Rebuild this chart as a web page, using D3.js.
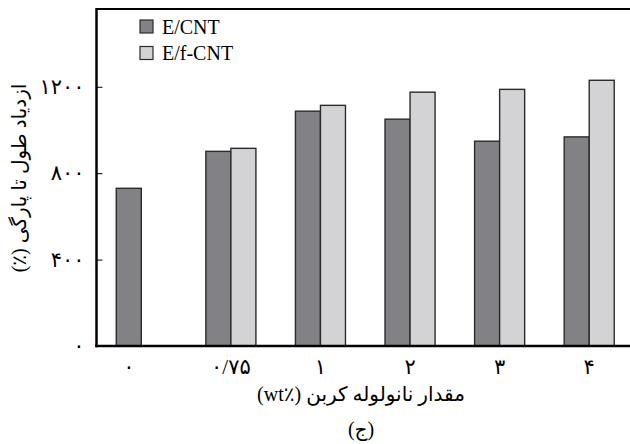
<!DOCTYPE html>
<html><head><meta charset="utf-8">
<script src="https://cdn.jsdelivr.net/npm/d3@7"></script>
<style>body{margin:0;background:#fff}svg{display:block}</style>
</head><body>
<script>
// ---- data ----
const categories = ["0", "0.75", "1", "2", "3", "4"];
const categoryLabels = ["۰", "۰/۷۵", "۱", "۲", "۳", "۴"];
const seriesNames = ["E/CNT", "E/f-CNT"];
const seriesColors = ["#828286", "#d3d3d5"];
const eCNT = [730, 901, 1087, 1050, 948, 968];
const efCNT = [null, 915, 1114, 1175, 1188, 1230];
const yTickValues = [0, 400, 800, 1200];
const yTickLabels = ["۰", "۴۰۰", "۸۰۰", "۱۲۰۰"];
const yTitle = "ازدیاد طول تا پارگی (٪)";
const xTitle = "مقدار نانولوله کربن (wt٪\u200E)";
const caption = "(ج)";

const W = 630, H = 444;
const mLeft = 96.5, mTop = 9, mBottom = 346, mRight = 634;
const persianFont = "'Liberation Serif','DejaVu Sans',serif";

const svg = d3.select("body").append("svg").attr("width", W).attr("height", H);

const x = d3.scaleBand().domain(categories).range([mLeft, mRight]);
const x1 = d3.scaleBand().domain(seriesNames).range([0, x.bandwidth()]).paddingOuter(0.79);
const y = d3.scaleLinear().domain([0, 1560]).range([mBottom, mTop]);

const seriesData = [eCNT, efCNT];
const rows = [];
categories.forEach((c, i) => {
  seriesNames.forEach((s, j) => {
    const v = seriesData[j][i];
    if (v != null) rows.push({c, s, v, j});
  });
});

svg.append("g").selectAll("rect").data(rows).join("rect")
  .attr("x", d => x(d.c) + x1(d.s))
  .attr("y", d => y(d.v))
  .attr("width", x1.bandwidth())
  .attr("height", d => y(0) - y(d.v))
  .attr("fill", d => seriesColors[d.j])
  .attr("stroke", "#2b2b2b")
  .attr("stroke-width", 1.4);

// y axis
const yAxis = d3.axisLeft(y)
  .tickValues(yTickValues)
  .tickSizeInner(-6).tickSizeOuter(0).tickPadding(12)
  .tickFormat((d, i) => yTickLabels[i]);
const gy = svg.append("g").attr("transform", `translate(${mLeft},0)`).call(yAxis);
gy.select(".domain").remove();
gy.selectAll(".tick line").attr("stroke", "#000").attr("stroke-width", 1);
gy.selectAll(".tick text").attr("font-family", persianFont).attr("font-size", 21)
  .attr("letter-spacing", 1).attr("fill", "#000");

// x labels
svg.append("g").selectAll("text").data(categories).join("text")
  .attr("x", (c, i) => efCNT[i] == null
      ? x(c) + x1(seriesNames[0]) + x1.bandwidth() / 2
      : x(c) + x.bandwidth() / 2)
  .attr("y", 374)
  .attr("text-anchor", "middle")
  .attr("font-family", persianFont).attr("font-size", 21).attr("letter-spacing", 1)
  .text((c, i) => categoryLabels[i]);

// frame lines
svg.append("line").attr("x1", mLeft).attr("x2", W).attr("y1", mTop).attr("y2", mTop)
  .attr("stroke", "#000").attr("stroke-width", 2);
svg.append("line").attr("x1", mLeft).attr("x2", mLeft).attr("y1", mTop - 1).attr("y2", mBottom + 1.2)
  .attr("stroke", "#000").attr("stroke-width", 2.5);
svg.append("line").attr("x1", mLeft - 1.2).attr("x2", W).attr("y1", mBottom).attr("y2", mBottom)
  .attr("stroke", "#000").attr("stroke-width", 2.5);

// legend
const lg = svg.append("g");
seriesNames.forEach((s, j) => {
  lg.append("rect").attr("x", 140).attr("y", 20 + j * 26.5).attr("width", 13).attr("height", 13)
    .attr("fill", seriesColors[j]).attr("stroke", "#2b2b2b").attr("stroke-width", 1.2);
  lg.append("text").attr("x", 162).attr("y", 34 + j * 25.5)
    .attr("font-family", "'Liberation Serif',serif").attr("font-size", 20)
    .text(s);
});

// titles
svg.append("text")
  .attr("transform", "translate(26,178) rotate(-90)")
  .attr("text-anchor", "middle").attr("direction", "rtl")
  .attr("font-family", persianFont).attr("font-size", 20)
  .text(yTitle);
svg.append("text")
  .attr("x", 361).attr("y", 401)
  .attr("text-anchor", "middle").attr("direction", "rtl")
  .attr("font-family", persianFont).attr("font-size", 20)
  .text(xTitle);
svg.append("text")
  .attr("x", 361).attr("y", 436)
  .attr("text-anchor", "middle").attr("direction", "rtl")
  .attr("font-family", persianFont).attr("font-size", 20)
  .text(caption);
</script>
</body></html>
